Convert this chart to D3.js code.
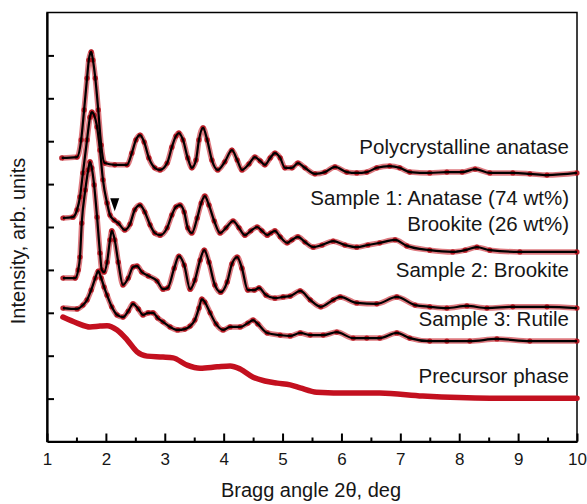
<!DOCTYPE html>
<html>
<head>
<meta charset="utf-8">
<script src="https://cdn.jsdelivr.net/npm/d3@7"></script>
<style>
  body { margin: 0; background: #fff; }
  svg text { font-family: "Liberation Sans", Arial, sans-serif; fill: #161616; }
</style>
</head>
<body>
<svg id="chart"></svg>
<script>
// x = Bragg angle 2theta (deg), y = intensity (arb. units, offset per pattern)
var anatase = [
    [1.25,6.61],[1.51,6.63],[1.58,7.03],[1.63,7.73],[1.68,8.47],[1.71,8.89],[1.75,9.08],[1.78,8.89],[1.82,8.47],
    [1.87,7.73],[1.92,6.91],[1.98,6.49],[2.15,6.45],[2.36,6.45],[2.44,6.72],[2.51,7.03],[2.58,7.14],[2.65,6.98],
    [2.73,6.61],[2.83,6.38],[2.92,6.33],[3.04,6.49],[3.12,6.86],[3.19,7.12],[3.24,7.19],[3.31,7.03],[3.39,6.61],
    [3.46,6.38],[3.53,6.56],[3.58,7.03],[3.65,7.31],[3.72,7.03],[3.80,6.56],[3.90,6.33],[4.02,6.52],[4.14,6.79],
    [4.23,6.56],[4.31,6.33],[4.43,6.47],[4.53,6.63],[4.62,6.54],[4.70,6.45],[4.79,6.61],[4.87,6.72],[4.96,6.61],
    [5.04,6.38],[5.16,6.38],[5.26,6.49],[5.38,6.38],[5.55,6.24],[5.72,6.28],[5.89,6.40],[6.09,6.28],[6.26,6.26],
    [6.43,6.28],[6.60,6.38],[6.82,6.42],[6.99,6.38],[7.16,6.28],[7.50,6.26],[7.79,6.28],[8.05,6.28],[8.27,6.35],
    [8.52,6.26],[8.91,6.26],[9.20,6.24],[9.49,6.21],[10.0,6.26]
]
var sample1 = [
    [1.27,5.21],[1.44,5.23],[1.51,5.40],[1.56,5.70],[1.61,6.26],[1.68,7.03],[1.73,7.56],[1.76,7.68],[1.80,7.61],
    [1.85,7.33],[1.90,6.79],[1.95,6.10],[2.02,5.56],[2.07,5.28],[2.14,5.16],[2.21,5.09],[2.32,4.93],[2.41,5.07],
    [2.49,5.40],[2.58,5.51],[2.66,5.35],[2.75,5.05],[2.83,4.86],[2.92,4.81],[3.04,4.98],[3.12,5.28],[3.19,5.47],
    [3.26,5.51],[3.33,5.35],[3.39,4.98],[3.46,4.86],[3.55,5.21],[3.62,5.56],[3.68,5.72],[3.75,5.51],[3.84,5.14],
    [3.94,4.86],[4.04,4.98],[4.16,5.14],[4.26,4.98],[4.36,4.81],[4.46,4.91],[4.57,5.00],[4.65,4.91],[4.74,4.81],
    [4.80,4.86],[4.87,4.91],[4.96,4.77],[5.08,4.63],[5.16,4.70],[5.26,4.77],[5.38,4.65],[5.52,4.53],[5.67,4.58],
    [5.86,4.67],[6.06,4.58],[6.26,4.53],[6.45,4.58],[6.65,4.63],[6.91,4.70],[7.11,4.56],[7.50,4.46],[7.89,4.42],
    [8.10,4.46],[8.30,4.53],[8.52,4.46],[9.03,4.42],[10.0,4.42]
]
var sample2 = [
    [1.27,3.81],[1.48,3.81],[1.53,4.00],[1.56,4.30],[1.59,5.09],[1.65,5.86],[1.70,6.33],[1.73,6.52],[1.76,6.38],
    [1.80,5.98],[1.85,5.23],[1.90,4.39],[1.93,4.00],[1.97,3.95],[2.02,4.18],[2.07,4.70],[2.10,4.91],[2.15,4.70],
    [2.21,4.18],[2.29,3.65],[2.38,3.81],[2.46,4.07],[2.53,4.09],[2.61,3.95],[2.72,3.86],[2.87,3.74],[2.97,3.55],
    [3.05,3.58],[3.16,4.04],[3.24,4.32],[3.33,4.11],[3.43,3.55],[3.51,3.76],[3.60,4.23],[3.67,4.46],[3.75,4.18],
    [3.85,3.65],[3.95,3.48],[4.06,3.72],[4.14,4.14],[4.23,4.30],[4.31,4.04],[4.41,3.53],[4.52,3.53],[4.60,3.58],
    [4.72,3.41],[4.87,3.34],[5.01,3.37],[5.13,3.39],[5.30,3.51],[5.47,3.30],[5.65,3.14],[5.86,3.30],[5.98,3.37],
    [6.26,3.23],[6.60,3.21],[6.94,3.37],[7.25,3.18],[7.50,3.14],[7.79,3.11],[8.13,3.16],[8.47,3.11],[8.91,3.14],
    [9.49,3.14],[10.0,3.11]
]
var sample3 = [
    [1.27,3.11],[1.51,3.09],[1.61,3.18],[1.68,3.30],[1.75,3.53],[1.82,3.81],[1.87,3.97],[1.92,3.81],[1.97,3.60],
    [2.02,3.41],[2.10,3.14],[2.19,2.95],[2.29,2.90],[2.38,3.04],[2.46,3.21],[2.55,3.09],[2.63,2.95],[2.72,3.00],
    [2.80,3.00],[2.88,2.88],[2.97,2.79],[3.09,2.67],[3.22,2.60],[3.34,2.62],[3.43,2.69],[3.51,2.83],[3.58,3.11],
    [3.63,3.32],[3.68,3.25],[3.77,3.00],[3.87,2.74],[3.99,2.60],[4.11,2.67],[4.28,2.67],[4.41,2.76],[4.50,2.83],
    [4.58,2.74],[4.74,2.53],[4.96,2.48],[5.13,2.46],[5.30,2.53],[5.47,2.48],[5.69,2.48],[5.92,2.55],[6.20,2.41],
    [6.43,2.41],[6.65,2.41],[6.94,2.53],[7.16,2.41],[7.50,2.34],[7.79,2.34],[8.18,2.34],[8.64,2.39],[9.20,2.34],
    [10.0,2.34]
]
var precursor = [
    [1.27,2.90],[1.51,2.76],[1.73,2.67],[1.90,2.69],[2.02,2.70],[2.19,2.60],[2.36,2.37],[2.53,2.09],[2.70,1.99],
    [2.97,1.97],[3.14,1.95],[3.38,1.78],[3.60,1.71],[3.89,1.74],[4.11,1.76],[4.28,1.69],[4.50,1.50],[4.70,1.41],
    [4.91,1.36],[5.13,1.32],[5.30,1.25],[5.58,1.15],[6.15,1.13],[6.65,1.13],[7.38,1.06],[8.52,1.01],[10.0,1.01]
]
var seriesNames = [
    ["Polycrystalline anatase"],
    ["Sample 1: Anatase (74 wt%)", "Brookite (26 wt%)"],
    ["Sample 2: Brookite"],
    ["Sample 3: Rutile"],
    ["Precursor phase"]
]
var xTicks = [1,2,3,4,5,6,7,8,9,10]
var xMinorTicks = [1.5,2.5,3.5,4.5,5.5,6.5,7.5,8.5,9.5]
var yTicks = [1,2,3,4,5,6,7,8,9]
var brookiteMark = [2.15, 5.37]   // the small arrow over the brookite shoulder
var xTitle = "Bragg angle 2\u03b8, deg"
var yTitle = "Intensity, arb. units"

var width = 587, height = 504;
var plot = {left: 47, right: 577, top: 12.5, bottom: 441.5};

var svg = d3.select("#chart")
    .attr("width", width)
    .attr("height", height)
    .attr("viewBox", "0 0 " + width + " " + height);

var xScale = d3.scaleLinear().domain([1, 10]).range([plot.left, plot.right]);
var yScale = d3.scaleLinear().domain([0, 10]).range([plot.bottom, plot.top]);

var line = d3.line()
    .x(function(d){ return xScale(d[0]); })
    .y(function(d){ return yScale(d[1]); })
    .curve(d3.curveMonotoneX);

// frame (top and right a bit lighter)
svg.append("rect")
    .attr("x", plot.left).attr("y", plot.top)
    .attr("width", plot.right - plot.left)
    .attr("height", plot.bottom - plot.top)
    .attr("fill", "none")
    .attr("stroke", "#000")
    .attr("stroke-width", 1.5);

// measured (red dots) + fit (black line)
var fitted = [anatase, sample1, sample2, sample3];
fitted.forEach(function(data){
    svg.append("path")
        .datum(data)
        .attr("d", line)
        .attr("fill", "none")
        .attr("stroke", "#c8202a")
        .attr("stroke-opacity", 0.6)
        .attr("stroke-width", 5.5);
    svg.append("g").selectAll("circle")
        .data(data)
        .enter().append("circle")
        .attr("cx", function(d){ return xScale(d[0]); })
        .attr("cy", function(d){ return yScale(d[1]); })
        .attr("r", 2.6)
        .attr("fill", "#b0101a")
        .attr("opacity", 0.9);
});
fitted.forEach(function(data){
    svg.append("path")
        .datum(data)
        .attr("d", line)
        .attr("fill", "none")
        .attr("stroke", "#000")
        .attr("stroke-width", 2.2)
        .attr("stroke-linejoin", "round");
});

svg.append("path")
    .datum(precursor)
    .attr("d", line)
    .attr("fill", "none")
    .attr("stroke", "#c3101f")
    .attr("stroke-width", 5.5)
    .attr("stroke-linecap", "round");

// arrow marker
var mx = xScale(brookiteMark[0]), my = yScale(brookiteMark[1]);
svg.append("path")
    .attr("d", "M" + mx + "," + my + " L" + (mx - 4.5) + "," + (my - 13) + " L" + (mx + 4.5) + "," + (my - 13) + " Z")
    .attr("fill", "#000");

// axes, ticks pointing inward
var xAxis = svg.append("g")
    .attr("transform", "translate(0," + plot.bottom + ")")
    .call(d3.axisBottom(xScale)
        .tickValues(xTicks)
        .tickSize(-8)
        .tickSizeOuter(0)
        .tickPadding(11)
        .tickFormat(d3.format("d")));
xAxis.select(".domain").attr("stroke-width", 2.2);
xAxis.selectAll(".tick line").attr("stroke-width", 2);
xAxis.selectAll("text")
    .style("font-size", "17px")
    .attr("fill", "#161616");

svg.append("g")
    .attr("transform", "translate(0," + plot.bottom + ")")
    .call(d3.axisBottom(xScale)
        .tickValues(xMinorTicks)
        .tickSize(-4)
        .tickSizeOuter(0)
        .tickFormat(""))
    .call(function(g){ g.select(".domain").remove(); })
    .selectAll(".tick line").attr("stroke-width", 2);

var yAxis = svg.append("g")
    .attr("transform", "translate(" + plot.left + ",0)")
    .call(d3.axisLeft(yScale)
        .tickValues(yTicks)
        .tickSize(-7)
        .tickSizeOuter(0)
        .tickFormat(""));
yAxis.select(".domain").attr("stroke-width", 2.2);
yAxis.selectAll(".tick line").attr("stroke-width", 2);

// series labels, right aligned
var labelBase = [153.5, 204.5, 276.5, 325.5, 383];
seriesNames.forEach(function(lines, i){
    lines.forEach(function(t, j){
        svg.append("text")
            .attr("x", 569)
            .attr("y", labelBase[i] + j * 26)
            .attr("text-anchor", "end")
            .style("font-size", "20.5px")
            .text(t);
    });
});

// axis titles
svg.append("text")
    .attr("x", (plot.left + plot.right) / 2 - 1)
    .attr("y", 497)
    .attr("text-anchor", "middle")
    .style("font-size", "20px")
    .text(xTitle);

svg.append("text")
    .attr("transform", "translate(25," + 241 + ") rotate(-90)")
    .attr("text-anchor", "middle")
    .style("font-size", "20px")
    .text(yTitle);
</script>
</body>
</html>
